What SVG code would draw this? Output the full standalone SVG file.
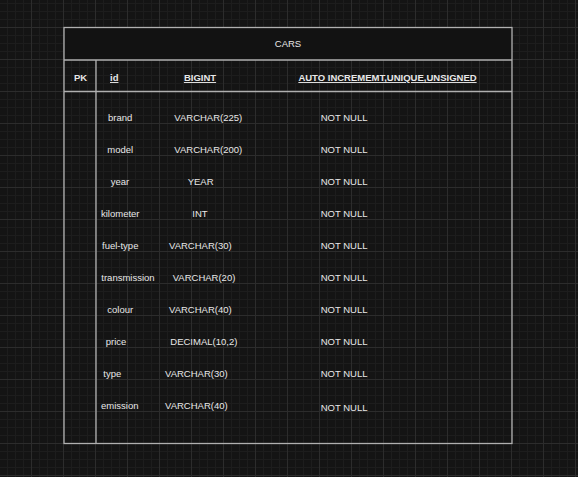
<svg xmlns="http://www.w3.org/2000/svg" width="578" height="477" viewBox="0 0 578 477">
<defs>
<pattern id="grid" x="-1" y="27" width="32" height="32" patternUnits="userSpaceOnUse">
<rect width="32" height="32" fill="#141414"/>
<rect x="8" y="0" width="1" height="32" fill="#1d1d1d"/>
<rect x="16" y="0" width="1" height="32" fill="#1d1d1d"/>
<rect x="24" y="0" width="1" height="32" fill="#1d1d1d"/>
<rect x="0" y="8" width="32" height="1" fill="#1d1d1d"/>
<rect x="0" y="16" width="32" height="1" fill="#1d1d1d"/>
<rect x="0" y="24" width="32" height="1" fill="#1d1d1d"/>
<rect x="0" y="0" width="1" height="32" fill="#2c2c2c"/>
<rect x="0" y="0" width="32" height="1" fill="#2c2c2c"/>
</pattern>
</defs>
<style>
.ln{stroke:#b0b0b0;stroke-width:1.3;fill:none}
.t{font-family:"Liberation Sans",Arial,Helvetica,sans-serif;font-size:9.5px;fill:#e8e8e8}
.b{font-weight:bold}
.u{text-decoration:underline}
.m{text-anchor:middle}
</style>
<rect width="578" height="477" fill="url(#grid)"/>
<g id="cars-table">
<rect x="64" y="27.5" width="448" height="32.5" fill="#121212"/>
<rect class="ln" x="64" y="27.5" width="448" height="416"/>
<line class="ln" x1="64" y1="60" x2="512" y2="60"/>
<line class="ln" x1="64" y1="91.5" x2="512" y2="91.5"/>
<line class="ln" x1="96" y1="60" x2="96" y2="443.5"/>
<text class="t m" x="288" y="47">CARS</text>
<text class="t b m" x="80.5" y="81">PK</text>
<text class="t b u" x="110" y="81">id</text>
<text class="t b u m" x="200" y="81">BIGINT</text>
<text class="t b u m" x="387.5" y="81">AUTO INCREMEMT,UNIQUE,UNSIGNED</text>
<text class="t" x="108" y="121">brand</text>
<text class="t" x="174.3" y="121">VARCHAR(225)</text>
<text class="t" x="320.7" y="121">NOT NULL</text>
<text class="t" x="107.3" y="153">model</text>
<text class="t" x="174.3" y="153">VARCHAR(200)</text>
<text class="t" x="320.7" y="153">NOT NULL</text>
<text class="t" x="110.7" y="185">year</text>
<text class="t" x="187.7" y="185">YEAR</text>
<text class="t" x="320.7" y="185">NOT NULL</text>
<text class="t" x="101" y="217">kilometer</text>
<text class="t" x="192.3" y="217">INT</text>
<text class="t" x="320.7" y="217">NOT NULL</text>
<text class="t" x="102" y="249">fuel-type</text>
<text class="t" x="169" y="249">VARCHAR(30)</text>
<text class="t" x="320.7" y="249">NOT NULL</text>
<text class="t" x="101.3" y="281">transmission</text>
<text class="t" x="172.7" y="281">VARCHAR(20)</text>
<text class="t" x="320.7" y="281">NOT NULL</text>
<text class="t" x="107.3" y="313">colour</text>
<text class="t" x="169" y="313">VARCHAR(40)</text>
<text class="t" x="320.7" y="313">NOT NULL</text>
<text class="t" x="105.7" y="345">price</text>
<text class="t" x="170.3" y="345">DECIMAL(10,2)</text>
<text class="t" x="320.7" y="345">NOT NULL</text>
<text class="t" x="103.3" y="377">type</text>
<text class="t" x="165" y="377">VARCHAR(30)</text>
<text class="t" x="320.7" y="377">NOT NULL</text>
<text class="t" x="101" y="409">emission</text>
<text class="t" x="165" y="409">VARCHAR(40)</text>
<text class="t" x="320.7" y="411">NOT NULL</text>
</g>
<g id="connectors"/>
</svg>
